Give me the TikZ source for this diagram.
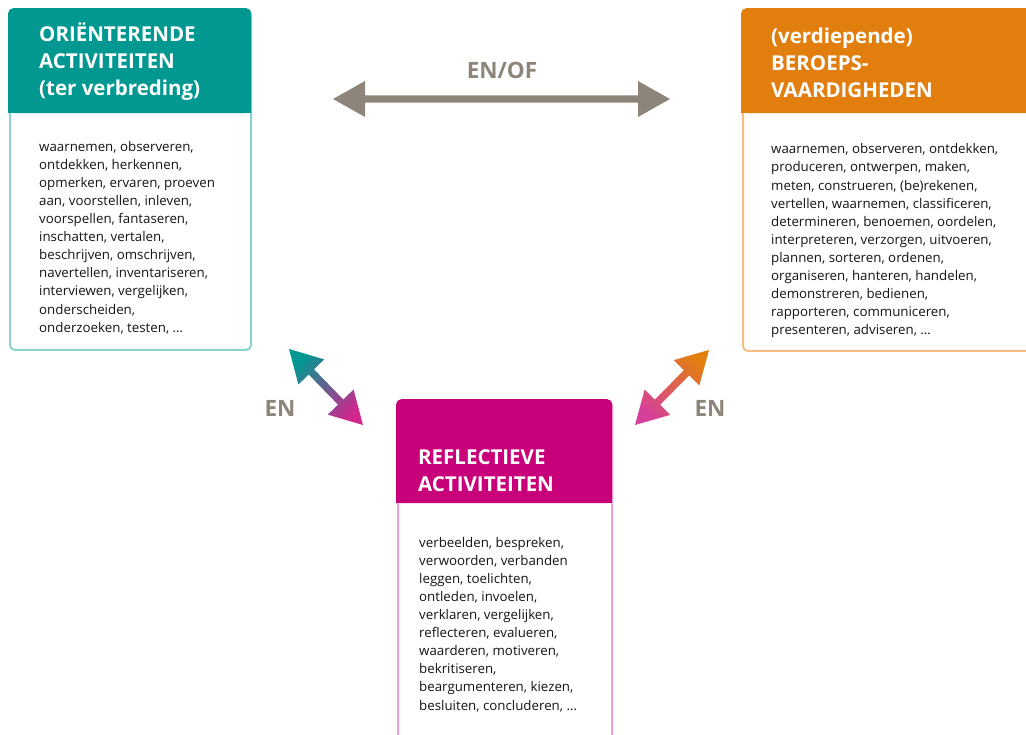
\documentclass[tikz,border=0pt]{standalone}
\usepackage{fontspec}
\setmainfont{Open Sans}
\usetikzlibrary{calc}

\definecolor{oriteal}{RGB}{0,152,145}
\definecolor{orilight}{RGB}{140,210,206}
\definecolor{beroorange}{RGB}{226,126,14}
\definecolor{berolight}{RGB}{245,190,130}
\definecolor{reflpink}{RGB}{200,0,122}
\definecolor{refllight}{RGB}{240,160,208}
\definecolor{arrowgray}{RGB}{141,133,121}
\definecolor{textdark}{RGB}{20,20,20}

% double arrow as one filled outline: #1 tip, #2 tip, #3 fill or shading
\newcommand{\duoarrow}[3]{%
  \path[#3] (#1)
    -- ($(#1)!32pt!(#2)!18pt!90:(#2)$) -- ($(#1)!32pt!(#2)!3.7pt!90:(#2)$)
    -- ($(#2)!32pt!(#1)!3.7pt!-90:(#1)$) -- ($(#2)!32pt!(#1)!18pt!-90:(#1)$)
    -- (#2)
    -- ($(#2)!32pt!(#1)!18pt!90:(#1)$) -- ($(#2)!32pt!(#1)!3.7pt!90:(#1)$)
    -- ($(#1)!32pt!(#2)!3.7pt!-90:(#2)$) -- ($(#1)!32pt!(#2)!18pt!-90:(#2)$)
    -- cycle;}

\begin{document}
\begin{tikzpicture}[x=1pt, y=-1pt,
    box/.style={draw, line width=2pt, fill=white, rounded corners=5pt, anchor=north west, inner sep=0pt},
    head/.style={fill, rounded corners=5pt, anchor=north west, inner sep=0pt},
    headtext/.style={text=white, font=\bfseries\fontsize{20.5}{27}\selectfont, align=left, anchor=north west, inner sep=0pt},
    bodytext/.style={text=textdark, font=\fontsize{13.3}{18.1}\selectfont, align=left, anchor=north west, inner sep=0pt},
    enlabel/.style={text=arrowgray, font=\bfseries\fontsize{22.5}{26}\selectfont, inner sep=0pt}]
    \useasboundingbox (0,0) rectangle (1026,735);
    \clip (0,0) rectangle (1026,735);

    % boxes
    \node[box, draw=orilight, minimum width=241pt, minimum height=340pt] (oribox) at (9,9) {};
    \node[head, fill=oriteal, minimum width=243pt, minimum height=105pt] (orihead) at (8,8) {};
    \fill[oriteal] (orihead.west) rectangle (orihead.south east);

    \node[box, draw=berolight, minimum width=300pt, minimum height=341pt] (berobox) at (742,9) {};
    \node[head, fill=beroorange, minimum width=302pt, minimum height=105pt] (berohead) at (741,8) {};
    \fill[beroorange] (berohead.west) rectangle (berohead.south east);

    \node[box, draw=refllight, minimum width=214pt, minimum height=380pt] (reflbox) at (397,400) {};
    \node[head, fill=reflpink, minimum width=216pt, minimum height=104pt] (reflhead) at (396,399) {};
    \fill[reflpink] (reflhead.west) rectangle (reflhead.south east);

    % titles
    \node[headtext] (orititle) at (39,22) {\strut ORIËNTERENDE\\ACTIVITEITEN\\(ter verbreding)};
    \node[headtext] (berotitle) at (771,24) {\strut (verdiepende)\\BEROEPS-\\VAARDIGHEDEN};
    \node[headtext] (refltitle) at (418,445.6) {\strut REFLECTIEVE\\ACTIVITEITEN};

    % lists
    \node[bodytext] (oritext) at (39,138.3) {\strut waarnemen, observeren,\\ontdekken, herkennen,\\opmerken, ervaren, proeven\\aan, voorstellen, inleven,\\voorspellen, fantaseren,\\inschatten, vertalen,\\beschrijven, omschrijven,\\navertellen, inventariseren,\\interviewen, vergelijken,\\onderscheiden,\\onderzoeken, testen, …};
    \node[bodytext] (berotext) at (771,141) {\strut waarnemen, observeren, ontdekken,\\produceren, ontwerpen, maken,\\meten, construeren, (be)rekenen,\\vertellen, waarnemen, classificeren,\\determineren, benoemen, oordelen,\\interpreteren, verzorgen, uitvoeren,\\plannen, sorteren, ordenen,\\organiseren, hanteren, handelen,\\demonstreren, bedienen,\\rapporteren, communiceren,\\presenteren, adviseren, …};
    \node[bodytext] (refltext) at (419,534.3) {\strut verbeelden, bespreken,\\verwoorden, verbanden\\leggen, toelichten,\\ontleden, invoelen,\\verklaren, vergelijken,\\reflecteren, evalueren,\\waarderen, motiveren,\\bekritiseren,\\beargumenteren, kiezen,\\besluiten, concluderen, …};

    % arrows
    \coordinate (eno_w) at (333,99);
    \coordinate (eno_e) at (670,99);
    \coordinate (ori_tip) at (289,349);
    \coordinate (refl_tipw) at (363,425);
    \coordinate (bero_tip) at (709,350);
    \coordinate (refl_tipe) at (635,425);

    \duoarrow{eno_w}{eno_e}{fill=arrowgray}
    \duoarrow{ori_tip}{refl_tipw}{top color=oriteal, bottom color=reflpink!85, shading angle=45}
    \duoarrow{bero_tip}{refl_tipe}{top color=beroorange, bottom color=reflpink!75, shading angle=-45}

    \node[enlabel] (enof) at (502,70) {EN/OF};
    \node[enlabel] (en_w) at (280,408) {EN};
    \node[enlabel] (en_e) at (710,408) {EN};
\end{tikzpicture}
\end{document}
